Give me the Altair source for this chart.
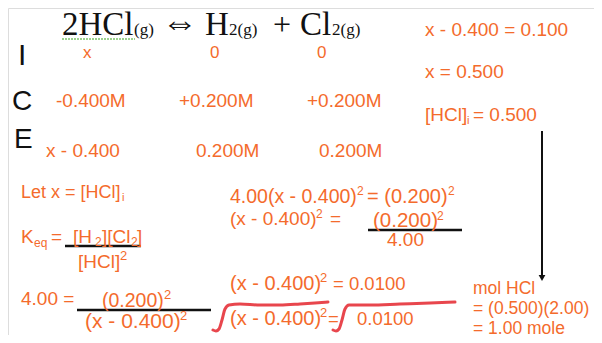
import altair as alt
import pandas as pd

# ---------------- content (text values) ----------------
reaction_main = ["2HCl", "H", "Cl"]
reaction_phase = ["(g)", "2(g)", "2(g)"]
reaction_ops = ["\u21d4", "+"]
ice_labels = ["I", "C", "E"]
row_I = ["x", "0", "0"]
row_C = ["-0.400M", "+0.200M", "+0.200M"]
row_E = ["x - 0.400", "0.200M", "0.200M"]
right_steps = ["x - 0.400 = 0.100", "x = 0.500", "[HCl]", "i", "= 0.500"]
let_line = ["Let x = [HCl]", "i"]
keq_parts = ["K", "eq", "=", "[H", "2", "][Cl", "2", "]", "[HCl]", "2"]
mid_steps = ["4.00(x - 0.400)", "2", "= (0.200)", "2",
             "(x - 0.400)", "2", "=", "(0.200)", "2", "4.00"]
left_bottom = ["4.00 =", "(0.200)", "2", "(x - 0.400)", "2"]
sqrt_steps = ["(x - 0.400)", "2", "= 0.0100", "(x - 0.400)", "2", "=", "0.0100"]
mol_lines = ["mol HCl", "= (0.500)(2.00)", "= 1.00 mole"]

# ---------------- layout (positions / sizes, kept apart from content) ----------------
ORANGE = "#F46B2C"
BLACK = "#111111"
RED = "#E5323A"

sans_items = []
def put(texts, coords, size, color=ORANGE):
    for t, (x, y) in zip(texts, coords):
        sans_items.append(dict(t=t, x=x, y=y, size=size, color=color))

put(ice_labels[:1], [(18, 65)], 30, BLACK)
put(ice_labels[1:], [(12, 110), (14, 148)], 28, BLACK)
put(row_I, [(83, 58), (210, 58), (317, 58)], 17)
put(row_C, [(56, 107), (179, 107), (307, 107)], 19)
put(row_E, [(46, 157), (196, 157), (319, 157)], 19)
put([right_steps[0], right_steps[1], right_steps[2], right_steps[4]],
    [(425, 36), (425, 78), (425, 121), (473, 121)], 19)
put([right_steps[3]], [(467, 124)], 11)
put([let_line[0]], [(21, 198)], 18)
put([let_line[1]], [(122, 201)], 11)
put([keq_parts[0], keq_parts[2], keq_parts[3], keq_parts[5], keq_parts[7], keq_parts[8]],
    [(21, 243), (51, 243), (73, 243), (102, 243), (137, 243), (78, 268)], 19)
put([keq_parts[1], keq_parts[4], keq_parts[6]], [(34, 247), (95, 246), (131, 246)], 12)
put([keq_parts[9]], [(120, 260)], 13)
# middle block
put([mid_steps[0]], [(230, 203)], 19.5)
put([mid_steps[2]], [(367, 203)], 20)
put([mid_steps[4], mid_steps[6], mid_steps[9]], [(230, 225), (330, 225), (387, 246)], 19)
put([mid_steps[7]], [(373, 227)], 20.5)
put([mid_steps[1], mid_steps[3], mid_steps[5], mid_steps[8]],
    [(357, 195), (448, 195), (316, 218), (437, 220)], 12)
# bottom-left fraction
put([left_bottom[0]], [(21, 305)], 19)
put([left_bottom[1]], [(102, 307)], 19.5)
put([left_bottom[3]], [(85, 328)], 21)
put([left_bottom[2], left_bottom[4]], [(164, 299), (180, 320)], 13)
# square-root steps
put([sqrt_steps[0], sqrt_steps[3]], [(230, 290), (230, 325)], 20)
put([sqrt_steps[2], sqrt_steps[5], sqrt_steps[6]], [(333, 290), (328, 325), (357, 325)], 18.5)
put([sqrt_steps[1], sqrt_steps[4]], [(320, 282), (320, 317)], 13)
# moles
put(mol_lines, [(473, 294), (473, 314), (473, 334)], 17.5)

serif_items = []
for t, (x, y) in zip(reaction_main, [(62, 35), (205, 35), (300, 35)]):
    serif_items.append(dict(t=t, x=x, y=y, size=33, color=BLACK))
for t, (x, y) in zip(reaction_phase, [(134, 35), (229, 35), (332, 35)]):
    serif_items.append(dict(t=t, x=x, y=y, size=17, color=BLACK))
for t, (x, y), s in zip(reaction_ops, [(162, 34), (273, 35)], [36, 32]):
    serif_items.append(dict(t=t, x=x, y=y, size=s, color=BLACK))

rules = pd.DataFrame([
    dict(x=65, x2=141, y=246, y2=246, w=2.5, c=BLACK),
    dict(x=368, x2=462, y=230, y2=230, w=2.5, c=BLACK),
    dict(x=77, x2=211, y=310, y2=310, w=2.5, c=BLACK),
    dict(x=542, x2=542, y=131, y2=276, w=2, c=BLACK),
])

sq1_x = [213, 216, 219, 222, 225, 229, 240, 260, 280, 300, 315, 328]
sq1_y = [330, 331, 329, 320, 309, 305, 304, 305, 305, 304, 303, 302]
sq2_x = [333, 336, 339, 342, 345, 349, 370, 400, 430, 455]
sq2_y = [330, 331, 329, 320, 309, 305, 305, 304, 303, 302]
squig = pd.DataFrame(
    [dict(x=a, y=b, g=1, o=i) for i, (a, b) in enumerate(zip(sq1_x, sq1_y))] +
    [dict(x=a, y=b, g=2, o=i) for i, (a, b) in enumerate(zip(sq2_x, sq2_y))]
)

green_x = [62, 135]
green_y = [39, 39]
green = pd.DataFrame(dict(x=green_x, y=green_y))
arrow_head = pd.DataFrame(dict(x=[542], y=[278]))

# ---------------- chart ----------------
# plot area exactly fills the window inside the 8px page margin
W, H = 586, 327
xs = alt.Scale(domain=[8, 8 + W], nice=False, zero=False)
ys = alt.Scale(domain=[8, 8 + H], nice=False, zero=False, reverse=True)
X = lambda f="x": alt.X(f"{f}:Q", scale=xs, axis=None)
Y = lambda f="y": alt.Y(f"{f}:Q", scale=ys, axis=None)

sans = alt.Chart(pd.DataFrame(sans_items)).mark_text(
    align="left", baseline="alphabetic", font="Liberation Sans"
).encode(x=X(), y=Y(), text="t:N",
         size=alt.Size("size:Q", scale=None),
         color=alt.Color("color:N", scale=None))

serif = alt.Chart(pd.DataFrame(serif_items)).mark_text(
    align="left", baseline="alphabetic", font="Liberation Serif"
).encode(x=X(), y=Y(), text="t:N",
         size=alt.Size("size:Q", scale=None),
         color=alt.Color("color:N", scale=None))

rule_layer = alt.Chart(rules).mark_rule().encode(
    x=X(), x2="x2:Q", y=Y(), y2="y2:Q",
    strokeWidth=alt.StrokeWidth("w:Q", scale=None),
    color=alt.Color("c:N", scale=None))

squig_layer = alt.Chart(squig).mark_line(
    color=RED, strokeWidth=3, interpolate="monotone", strokeCap="round", opacity=0.9
).encode(x=X(), y=Y(), detail="g:N", order="o:Q")

green_layer = alt.Chart(green).mark_line(
    color="#7CC46A", strokeWidth=1.5, strokeDash=[2, 1]
).encode(x=X(), y=Y())

head = alt.Chart(arrow_head).mark_point(
    shape="triangle-down", filled=True, color=BLACK, size=45, opacity=1
).encode(x=X(), y=Y())

chart = alt.layer(green_layer, rule_layer, squig_layer, head, serif, sans).properties(
    width=W, height=H, padding=0, autosize=alt.AutoSizeParams(type="none")
).configure_view(stroke=None).configure(background="white")

chart.save("out.html", embed_options={"renderer": "svg", "actions": False})
